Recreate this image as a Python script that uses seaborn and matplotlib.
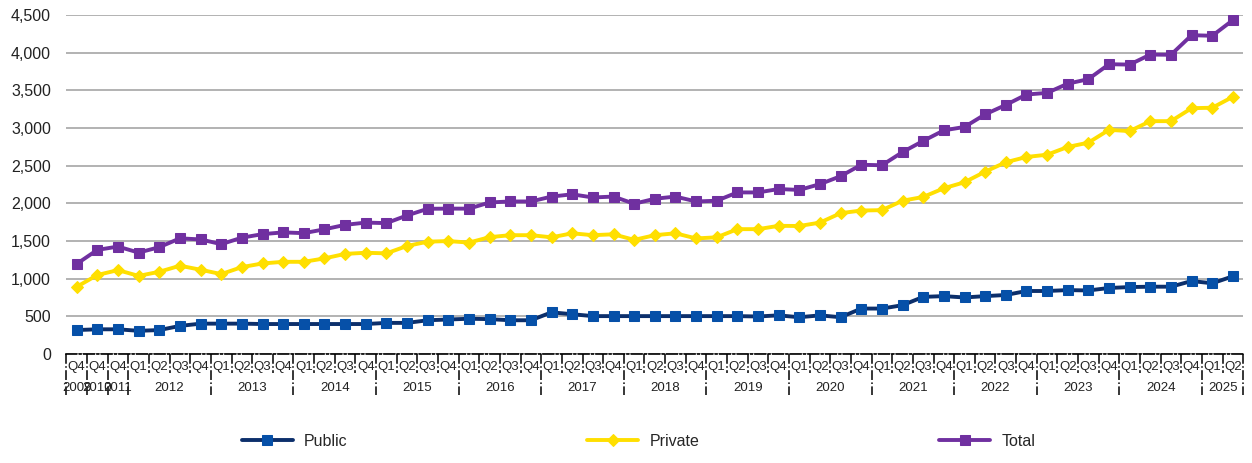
import pandas as pd
import matplotlib.pyplot as plt
import matplotlib.transforms as mtransforms
from matplotlib.ticker import FuncFormatter
import seaborn as sns

# quarters on the x axis (2009-2011 only Q4, then every quarter)
quarters = ["Q4", "Q4", "Q4"] + ["Q1", "Q2", "Q3", "Q4"] * 13 + ["Q1", "Q2"]
years = ["2009", "2010", "2011"] + [str(y) for y in range(2012, 2025) for _ in range(4)] + ["2025", "2025"]
periods = [f"{y}-{q}" for y, q in zip(years, quarters)]

public = [320, 330, 330, 310, 320, 375, 405, 405, 405, 400,
          400, 400, 400, 400, 400, 415, 415, 450, 460, 470,
          465, 450, 450, 555, 530, 505, 505, 505, 505, 505,
          505, 505, 505, 500, 515, 490, 515, 490, 605, 605,
          650, 760, 770, 752, 770, 785, 838, 838, 850, 845,
          878, 890, 895, 895, 970, 940, 1033]
private = [893, 1050, 1115, 1038, 1093, 1173, 1120, 1062, 1155, 1203,
           1225, 1225, 1270, 1330, 1345, 1337, 1435, 1492, 1500, 1480,
           1552, 1578, 1578, 1550, 1603, 1578, 1590, 1516, 1578, 1603,
           1535, 1550, 1658, 1658, 1702, 1700, 1745, 1870, 1905, 1910,
           2035, 2085, 2200, 2280, 2420, 2545, 2615, 2645, 2748, 2805,
           2975, 2958, 3090, 3090, 3262, 3268, 3413]
total = [1197, 1383, 1427, 1347, 1419, 1536, 1522, 1459, 1545, 1592,
         1615, 1605, 1656, 1715, 1745, 1738, 1840, 1928, 1930, 1930,
         2012, 2025, 2025, 2090, 2120, 2078, 2090, 1995, 2061, 2090,
         2025, 2035, 2145, 2145, 2190, 2178, 2255, 2360, 2512, 2505,
         2680, 2828, 2968, 3013, 3180, 3305, 3443, 3465, 3587, 3647,
         3845, 3840, 3973, 3970, 4230, 4222, 4430]

sns.set_style("white")
plt.rcParams["font.family"] = ["Liberation Sans", "DejaVu Sans"]

df = pd.DataFrame({"period": periods, "Public": public, "Private": private, "Total": total})

fig = plt.figure(figsize=(12.52, 4.63), dpi=100)
ax = fig.add_axes([0.053, 0.235, 0.940, 0.733])

styles = {
    "Public": dict(color="#0c2f6b", marker="s", markerfacecolor="#0650a8", markeredgecolor="#0650a8", markersize=7.5),
    "Private": dict(color="#ffdf00", marker="D", markerfacecolor="#ffdf00", markeredgecolor="#ffdf00", markersize=6.5),
    "Total": dict(color="#7030a0", marker="s", markerfacecolor="#7030a0", markeredgecolor="#7030a0", markersize=7.5),
}
for name, st in styles.items():
    sns.lineplot(data=df, x="period", y=name, ax=ax, linewidth=2.8, label=name, **st)

ax.set_ylim(0, 4500)
ax.set_xlim(-0.5, len(periods) - 0.5)
ax.set_yticks(range(0, 4501, 500))
ax.yaxis.set_major_formatter(FuncFormatter(lambda v, p: f"{int(v):,}"))
ax.grid(axis="y", color="#a6a6a6", linewidth=1.2)
ax.set_axisbelow(True)
for s in ["left", "right", "top"]:
    ax.spines[s].set_visible(False)
ax.spines["bottom"].set_linestyle("-.")
ax.spines["bottom"].set_color("black")
ax.spines["bottom"].set_linewidth(1.2)
ax.tick_params(axis="y", length=0, pad=11, labelsize=11.5, labelcolor="#222222")
ax.set_xticks(range(len(periods)))
ax.set_xticklabels(quarters)
ax.tick_params(axis="x", length=0, pad=5, labelsize=9.5, labelcolor="#222222")
ax.set_xlabel("")
ax.set_ylabel("")

# two-level category axis: separators and year labels
trans = mtransforms.blended_transform_factory(ax.transData, ax.transAxes)
bounds = [-0.5, 0.5, 1.5, 2.5] + [2.5 + 4 * k for k in range(1, 14)] + [len(periods) - 0.5]
for i in range(len(periods) + 1):
    x = i - 0.5
    low = -0.12 if x in bounds else -0.055
    ax.plot([x, x], [0, low], transform=trans, color="black", linewidth=1.1,
            linestyle="-.", clip_on=False)
year_names = []
for y in years:
    if y not in year_names:
        year_names.append(y)
for y in year_names:
    idx = [i for i, v in enumerate(years) if v == y]
    ax.text(sum(idx) / len(idx), -0.1, y, transform=trans, ha="center", va="center",
            fontsize=9.5, color="#222222")

ax.legend_.remove()
handles, labels = ax.get_legend_handles_labels()
fig.legend(handles, labels, loc="lower center", bbox_to_anchor=(0.51, 0.0), ncol=3,
           frameon=False, fontsize=11.5, handlelength=3.2, handletextpad=0.7,
           columnspacing=15)

fig.savefig("out.png", dpi=100)
